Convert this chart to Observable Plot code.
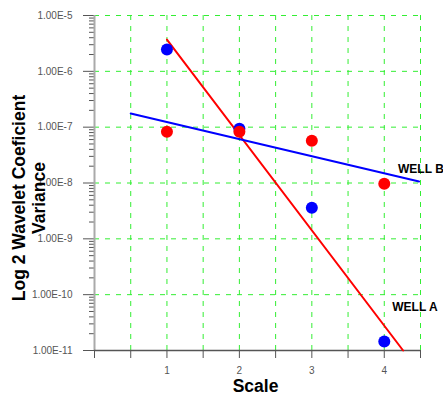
<!DOCTYPE html>
<html>
<head>
<meta charset="utf-8">
<script src="https://cdn.jsdelivr.net/npm/d3@7"></script>
<script src="https://cdn.jsdelivr.net/npm/@observablehq/plot@0.6"></script>
<style>
  html, body { margin: 0; padding: 0; background: #fff; }
  #chart svg { display: block; }
</style>
</head>
<body>
<div id="chart"></div>
<script>
// ---- data ----
const scaleValues = [1, 2, 3, 4];
const wellAPoints = [2.45e-6, 9.4e-8, 3.6e-9, 1.45e-11];   // blue dots
const wellBPoints = [8.3e-8, 8.3e-8, 5.7e-8, 9.7e-9];      // red dots
const fitAX = [1, 4.26];
const fitAY = [3.7e-6, 1.0e-11];                            // red fit line
const fitBX = [0.5, 4.48];
const fitBY = [1.75e-7, 1.06e-8];                           // blue fit line
const wellLabels = ["WELL B", "WELL A"];
const wellLabelX = [4.19, 4.11];
const wellLabelY = [1.8e-8, 5.9e-11];
const xGridValues = [0.5, 1, 1.5, 2, 2.5, 3, 3.5, 4, 4.5];
const xTickValues = [0, 0.5, 1, 1.5, 2, 2.5, 3, 3.5, 4, 4.5];
const xTickLabels = ["", "", "1", "", "2", "", "3", "", "4", ""];
const yDecades = [1e-11, 1e-10, 1e-9, 1e-8, 1e-7, 1e-6, 1e-5];
const yTickLabels = ["1.00E-11", "1.00E-10", "1.00E-9", "1.00E-8", "1.00E-7", "1.00E-6", "1.00E-5"];
const yTitle1 = "Log 2 Wavelet Coeficient";
const yTitle2 = "Variance";
const xTitle = "Scale";

// ---- tables ----
const blue = scaleValues.map((s, i) => ({x: s, y: wellAPoints[i]}));
const red = scaleValues.map((s, i) => ({x: s, y: wellBPoints[i]}));
const fitA = fitAX.map((x, i) => ({x, y: fitAY[i]}));
const fitB = fitBX.map((x, i) => ({x, y: fitBY[i]}));
const labels = wellLabels.map((t, i) => ({x: wellLabelX[i], y: wellLabelY[i], t}));
const yMinor = d3.scaleLog().domain([1e-11, 1e-5]).ticks().filter(v => !yDecades.some(d => Math.abs(Math.log10(v) - Math.log10(d)) < 1e-6));

const font = "'Liberation Sans', Arial, sans-serif";
const gridColor = "#33ee33";

const chart = Plot.plot({
  width: 443,
  height: 400,
  marginLeft: 94,
  marginRight: 23,
  marginTop: 15,
  marginBottom: 50,
  style: {fontFamily: font, background: "#fff", overflow: "visible"},
  x: {domain: [0, 4.5], axis: null},
  y: {type: "log", domain: [1e-11, 1e-5], axis: null},
  marks: [
    Plot.ruleX(xGridValues, {stroke: gridColor, strokeWidth: 1, strokeDasharray: "5,6"}),
    Plot.ruleY(yDecades, {stroke: gridColor, strokeWidth: 1, strokeDasharray: "5,6"}),
    Plot.axisY(yMinor, {tickSize: 5, tickFormat: () => "", stroke: "#555", label: null}),
    Plot.axisY(yDecades, {tickSize: 11, tickPadding: 11, fontSize: 10, fill: "#555", stroke: "#555",
      tickFormat: d => yTickLabels[yDecades.indexOf(d)], label: null}),
    Plot.axisX(xTickValues, {tickSize: 8, tickPadding: 8, fontSize: 10, fill: "#555", stroke: "#555",
      tickFormat: d => xTickLabels[xTickValues.indexOf(d)], label: null}),
    Plot.ruleX([0], {stroke: "#aaa", strokeWidth: 2}),
    Plot.ruleY([1e-11], {stroke: "#555", strokeWidth: 1.5}),
    Plot.line(fitA, {x: "x", y: "y", stroke: "#ff0000", strokeWidth: 2}),
    Plot.line(fitB, {x: "x", y: "y", stroke: "#0000ff", strokeWidth: 2}),
    Plot.dot(blue, {x: "x", y: "y", r: 6, fill: "#0000ff"}),
    Plot.dot(red, {x: "x", y: "y", r: 6, fill: "#ff0000"}),
    Plot.text(labels, {x: "x", y: "y", text: "t", textAnchor: "start", fontWeight: "bold", fontSize: 12, fill: "#000"}),
    Plot.text([yTitle1], {frameAnchor: "left", textAnchor: "middle", rotate: -90, dx: -75, dy: 15, fontSize: 17.5, fontWeight: "bold", fill: "#000"}),
    Plot.text([yTitle2], {frameAnchor: "left", textAnchor: "middle", rotate: -90, dx: -55, dy: 15, fontSize: 17.5, fontWeight: "bold", fill: "#000"}),
    Plot.text([xTitle], {frameAnchor: "bottom", textAnchor: "middle", dx: -2, dy: 41, fontSize: 17.5, fontWeight: "bold", fill: "#000"})
  ]
});
document.getElementById("chart").appendChild(chart);
</script>
</body>
</html>
